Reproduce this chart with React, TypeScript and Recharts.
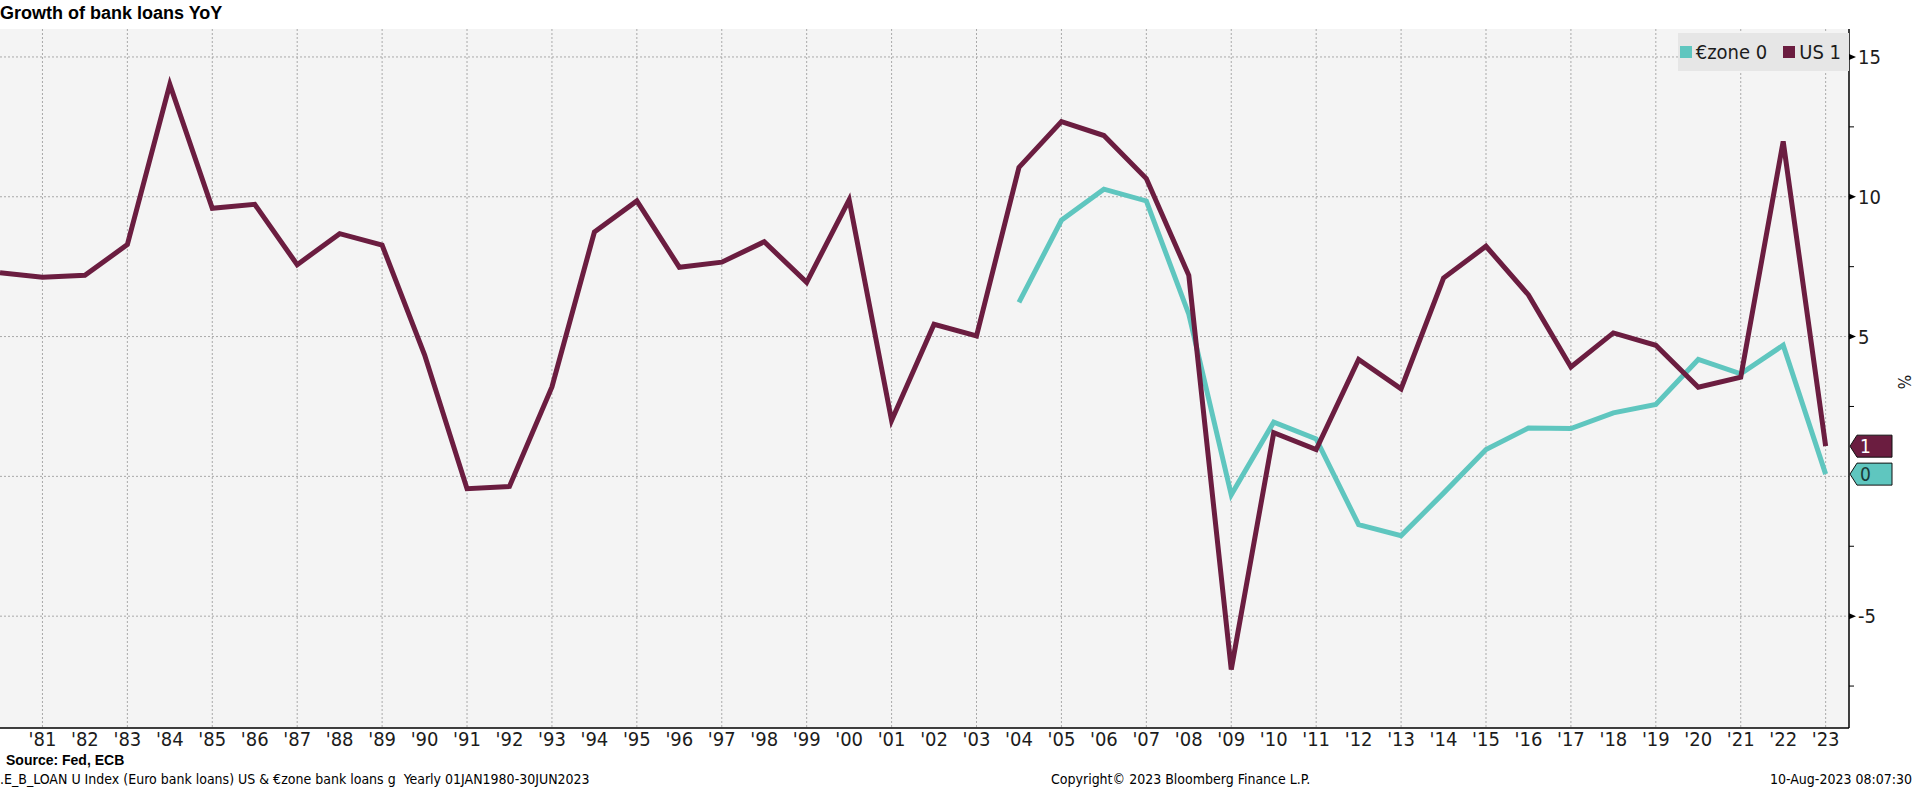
import React from "react";
import {
  ComposedChart,
  Line,
  XAxis,
  YAxis,
  CartesianGrid,
  Legend,
  ReferenceDot,
} from "recharts";

const MAROON = "#6b1d40";
const TEAL = "#5fc6bf";
const PLOT_BG = "#f4f4f4";
const GRID = "#a9a9a9";
const INK = "#1c1c1c";
const NARROW = "'Liberation Sans Narrow', 'DejaVu Sans Condensed', 'Arial Narrow', sans-serif";
const SANS = "'Liberation Sans', Arial, sans-serif";

const YEARS = [
  1980, 1981, 1982, 1983, 1984, 1985, 1986, 1987, 1988, 1989, 1990, 1991, 1992, 1993, 1994,
  1995, 1996, 1997, 1998, 1999, 2000, 2001, 2002, 2003, 2004, 2005, 2006, 2007, 2008, 2009,
  2010, 2011, 2012, 2013, 2014, 2015, 2016, 2017, 2018, 2019, 2020, 2021, 2022, 2023,
];

const US_LOANS = [
  7.28, 7.12, 7.19, 8.29, 14.02, 9.59, 9.73, 7.57, 8.68, 8.27, 4.35, -0.44, -0.36, 3.2, 8.74,
  9.85, 7.48, 7.66, 8.39, 6.94, 9.89, 2.0, 5.44, 5.02, 11.05, 12.69, 12.19, 10.65, 7.19, -6.91,
  1.56, 0.96, 4.18, 3.13, 7.09, 8.23, 6.49, 3.91, 5.13, 4.69, 3.19, 3.55, 11.98, 1.08,
];

const EUROZONE_LOANS = [
  null, null, null, null, null, null, null, null, null, null, null, null, null, null, null,
  null, null, null, null, null, null, null, null, null, 6.22, 9.16, 10.27, 9.85, 5.8, -0.66,
  1.94, 1.34, -1.73, -2.12, -0.6, 0.96, 1.73, 1.71, 2.27, 2.57, 4.18, 3.67, 4.69, 0.08,
];

const SERIES_ORDER = ["eu", "us"];
const X_TICKS = YEARS.slice(1);
const X_GRID = YEARS.filter((y) => y % 2 === 1);
const Y_TICKS = [-7.5, -5, -2.5, 0, 2.5, 5, 7.5, 10, 12.5, 15];
const Y_GRID = [-5, 0, 5, 10, 15];
const X_MAX = 2023.55;

const data = YEARS.map((year, i) => ({ year, us: US_LOANS[i], eu: EUROZONE_LOANS[i] }));

const US_LAST = US_LOANS[US_LOANS.length - 1];
const EU_LAST = EUROZONE_LOANS[EUROZONE_LOANS.length - 1] as number;

function YTick(props: any) {
  const { x, y, payload } = props;
  const v = payload.value;
  if (v % 5 !== 0) {
    return <line x1={x} x2={x + 5} y1={y} y2={y} stroke="#000" strokeWidth={1} />;
  }
  if (v === 0) return null;
  return (
    <g>
      <polygon points={`${x},${y - 3} ${x + 7},${y} ${x},${y + 3}`} fill="#000" />
      <text x={x + 9} y={y} dy="0.36em" fill={INK} fontSize={20} fontFamily={NARROW}>
        {v}
      </text>
    </g>
  );
}

function ValueTag({ cx, cy, fill, color, text }: any) {
  const h = 11;
  return (
    <g>
      <polygon
        points={`${cx + 1},${cy} ${cx + 8},${cy - h} ${cx + 43},${cy - h} ${cx + 43},${cy + h} ${cx + 8},${cy + h}`}
        fill={fill}
        stroke="#111"
        strokeWidth={1}
      />
      <text x={cx + 11} y={cy} dy="0.36em" fill={color} fontSize={19} fontFamily={NARROW}>
        {text}
      </text>
    </g>
  );
}

function LegendBox({ payload }: any) {
  const items = [...(payload || [])].sort(
    (a: any, b: any) => SERIES_ORDER.indexOf(a.dataKey) - SERIES_ORDER.indexOf(b.dataKey)
  );
  return (
    <div
      style={{
        background: "#e6e6e6",
        height: 38,
        display: "flex",
        alignItems: "center",
        justifyContent: "flex-end",
        paddingRight: 8,
        gap: 16,
        fontFamily: NARROW,
        fontSize: 20,
        color: INK,
        whiteSpace: "nowrap",
      }}
    >
      {items.map((p: any) => (
        <span key={p.value} style={{ display: "flex", alignItems: "center", whiteSpace: "nowrap" }}>
          <span style={{ display: "inline-block", width: 12, height: 12, background: p.color, marginRight: 4 }} />
          {p.value}
        </span>
      ))}
    </div>
  );
}

export default function App() {
  return (
    <div style={{ position: "absolute", left: 0, top: 0, width: 1916, height: 788, background: "#fff", overflow: "hidden" }}>
      <div style={{ position: "absolute", left: 0, top: 3, fontFamily: SANS, fontWeight: 700, fontSize: 18, color: "#000" }}>
        Growth of bank loans YoY
      </div>

      <ComposedChart width={1916} height={788} data={data} margin={{ top: 29, right: 17, bottom: 30, left: 0 }}>
        <CartesianGrid
          fill={PLOT_BG}
          stroke={GRID}
          strokeDasharray="2 2"
          horizontalValues={Y_GRID}
          verticalValues={X_GRID}
        />
        <XAxis
          dataKey="year"
          type="number"
          domain={[1980, X_MAX]}
          ticks={X_TICKS}
          interval={0}
          allowDataOverflow
          tickFormatter={(y: number) => "'" + String(y).slice(2)}
          tick={{ fill: INK, fontSize: 20, fontFamily: NARROW }}
          tickLine={false}
          tickSize={4}
          tickMargin={0}
          axisLine={{ stroke: "#000", strokeWidth: 1.5 }}
          height={30}
        />
        <YAxis
          orientation="right"
          type="number"
          domain={[-9, 16]}
          ticks={Y_TICKS}
          interval={0}
          allowDataOverflow
          tick={<YTick />}
          tickLine={false}
          tickSize={0}
          tickMargin={0}
          axisLine={{ stroke: "#000", strokeWidth: 1.5 }}
          width={50}
        />
        <Legend
          layout="vertical"
          verticalAlign="middle"
          align="center"
          content={<LegendBox />}
          wrapperStyle={{ position: "absolute", left: 1678, top: 33, width: 171, height: 38 }}
        />
        <Line
          dataKey="eu"
          name={`€zone ${Math.round(EU_LAST)}`}
          type="linear"
          stroke={TEAL}
          strokeWidth={5}
          dot={false}
          activeDot={false}
          isAnimationActive={false}
        />
        <Line
          dataKey="us"
          name={`US ${Math.round(US_LAST)}`}
          type="linear"
          stroke={MAROON}
          strokeWidth={5}
          dot={false}
          activeDot={false}
          isAnimationActive={false}
        />
        <ReferenceDot
          x={X_MAX}
          y={US_LAST}
          r={0}
          ifOverflow="visible"
          shape={(p: any) => <ValueTag cx={p.cx} cy={p.cy} fill={MAROON} color="#fff" text={Math.round(US_LAST)} />}
        />
        <ReferenceDot
          x={X_MAX}
          y={EU_LAST}
          r={0}
          ifOverflow="visible"
          shape={(p: any) => <ValueTag cx={p.cx} cy={p.cy} fill={TEAL} color="#1a3a38" text={Math.round(EU_LAST)} />}
        />
      </ComposedChart>

      <div
        style={{
          position: "absolute",
          left: 1897,
          top: 372,
          transform: "rotate(90deg)",
          transformOrigin: "center",
          fontFamily: NARROW,
          fontSize: 17,
          color: INK,
        }}
      >
        %
      </div>

      <div style={{ position: "absolute", left: 6, top: 752, fontFamily: SANS, fontWeight: 700, fontSize: 14, color: "#000" }}>
        Source: Fed, ECB
      </div>
      <div style={{ position: "absolute", left: 0, top: 771, fontFamily: NARROW, fontSize: 14, color: "#000", whiteSpace: "pre" }}>
        {".E_B_LOAN U Index (Euro bank loans) US & €zone bank loans g  Yearly 01JAN1980-30JUN2023"}
      </div>
      <div style={{ position: "absolute", left: 1051, top: 771, fontFamily: NARROW, fontSize: 14, color: "#000" }}>
        Copyright© 2023 Bloomberg Finance L.P.
      </div>
      <div style={{ position: "absolute", right: 4, top: 771, fontFamily: NARROW, fontSize: 14, color: "#000" }}>
        10-Aug-2023 08:07:30
      </div>
    </div>
  );
}
